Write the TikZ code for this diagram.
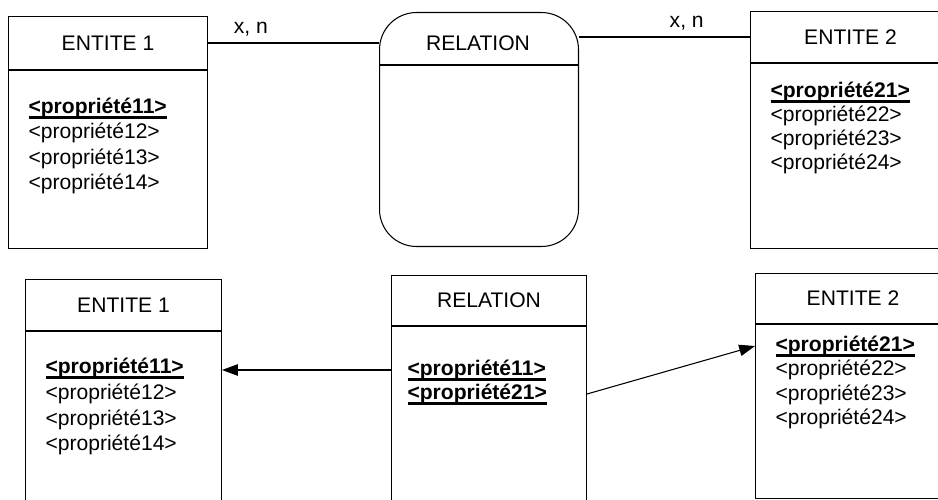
\documentclass[tikz,border=0pt]{standalone}
\usepackage{fontspec}
\setmainfont{Liberation Sans}
\usetikzlibrary{arrows.meta,positioning}

\newlength\clelarg
\newcommand\cle[1]{\settowidth\clelarg{\textbf{#1}}\textbf{#1}\hspace{-\clelarg}\rule[-3.1pt]{\clelarg}{1.3pt}}

\tikzset{
	cadre/.style={draw=black, line width=0.6pt, inner sep=0pt},
	entete/.style={cadre, font=\fontsize{12pt}{14pt}\selectfont},
	corps/.style={cadre},
	prop/.style={inner sep=0pt, anchor=west, text height=9pt, text depth=3pt,
		font=\fontsize{12pt}{14pt}\selectfont},
	card/.style={font=\fontsize{12pt}{14pt}\selectfont},
	lien/.style={draw=black, line width=0.6pt},
	fleche/.style={lien, -{Triangle[length=9pt,width=6.5pt]}},
}

\begin{document}
\begin{tikzpicture}[x=0.02cm, y=-0.02cm, line width=0.6pt]
		\useasboundingbox (0,0) rectangle (938,500);
		% modele conceptuel
		\node[entete, minimum width=3.98cm, minimum height=1.06cm, anchor=north west] (e1) at (8,16) {ENTITE 1};
		\node[corps, minimum width=3.98cm, minimum height=3.56cm, anchor=north] (c1) at (e1.south) {};
		\node[prop] (a11) at (28,108) {\cle{<propriété11>}};
		\node[prop] (a12) at (28,133.5) {<propriété12>};
		\node[prop] (a13) at (28,159) {<propriété13>};
		\node[prop] (a14) at (28,184.5) {<propriété14>};
		%
		\node[cadre, rounded corners=0.74cm, minimum width=3.98cm, minimum height=4.68cm, anchor=north west] (r) at (379,12) {};
		\draw (r.west |- 0,65) -- (r.east |- 0,65);
		\node[card] (rt) at (478,43) {RELATION};
		%
		\node[entete, minimum width=4cm, minimum height=1.02cm, anchor=north west] (e2) at (750,11) {ENTITE 2};
		\node[corps, minimum width=4cm, minimum height=3.7cm, anchor=north] (c2) at (e2.south) {};
		\node[prop] (a21) at (770,92) {\cle{<propriété21>}};
		\node[prop] (a22) at (770,116) {<propriété22>};
		\node[prop] (a23) at (770,140) {<propriété23>};
		\node[prop] (a24) at (770,164) {<propriété24>};
		%
		\draw[lien] (e1.east) -- node[card, above, pos=0.25] (k1) {x, n} (e1.east -| r.west);
		\draw[lien] (r.east |- e2.west) -- node[card, above, pos=0.63] (k2) {x, n} (e2.west);
		% modele logique
		\node[entete, minimum width=3.92cm, minimum height=1.02cm, anchor=north west] (f1) at (25,279) {ENTITE 1};
		\node[corps, minimum width=3.92cm, minimum height=3.6cm, anchor=north] (d1) at (f1.south) {};
		\node[prop] (b11) at (45,368) {\cle{<propriété11>}};
		\node[prop] (b12) at (45,394) {<propriété12>};
		\node[prop] (b13) at (45,420) {<propriété13>};
		\node[prop] (b14) at (45,445) {<propriété14>};
		%
		\node[entete, minimum width=3.9cm, minimum height=1cm, anchor=north west] (fr) at (391,275) {RELATION};
		\node[corps, minimum width=3.9cm, minimum height=3.7cm, anchor=north] (dr) at (fr.south) {};
		\node[prop] (r11) at (407,370) {\cle{<propriété11>}};
		\node[prop] (r21) at (407,394) {\cle{<propriété21>}};
		%
		\node[entete, minimum width=3.9cm, minimum height=1cm, anchor=north west] (f2) at (755,273) {ENTITE 2};
		\node[corps, minimum width=3.9cm, minimum height=3.48cm, anchor=north] (d2) at (f2.south) {};
		\node[prop] (b21) at (775,346) {\cle{<propriété21>}};
		\node[prop] (b22) at (775,370) {<propriété22>};
		\node[prop] (b23) at (775,395) {<propriété23>};
		\node[prop] (b24) at (775,419) {<propriété24>};
		%
		\draw[fleche] (dr.west |- r11) -- (d1.east |- r11);
		\draw[fleche] (dr.east |- r21) -- (d2.west |- b21);
	\end{tikzpicture}
\end{document}
